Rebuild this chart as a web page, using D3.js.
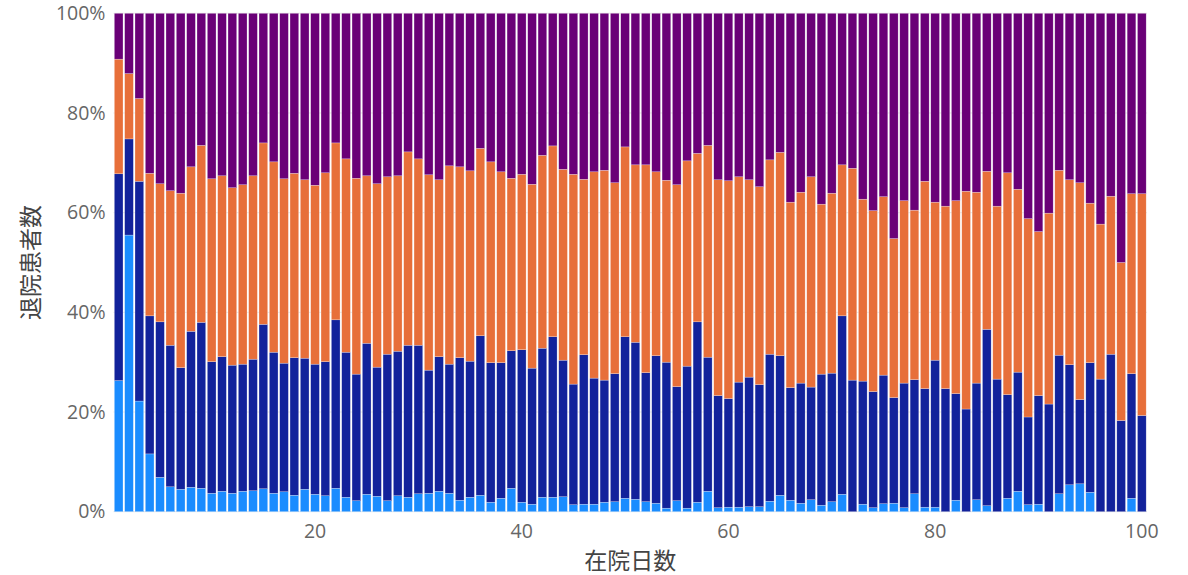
<!DOCTYPE html>
<html>
<head>
<meta charset="utf-8">
<script src="https://cdn.jsdelivr.net/npm/d3@7"></script>
<style>
  body { margin: 0; background: #fff; }
  svg { display: block; }
  .tick text { fill: #666; font-family: "Open Sans", "Noto Sans", sans-serif; font-size: 19.5px; }
  .axis-title { fill: #444; font-family: "Noto Sans CJK JP", sans-serif; font-size: 23px; }
</style>
</head>
<body>
<script>
const width = 1188,
    height = 575;
const margin = {top: 13.3, right: 41, bottom: 63.3, left: 113.5};

// 在院日数 1..100
const days = d3.range(1, 101);

// share of discharged patients per day, 4 groups (bottom -> top)
const seriesA = [26.3,55.5,22.2,11.6,6.9,5.0,4.5,4.9,4.7,3.7, 4.1,3.7,4.1,4.2,4.6,3.7,4.0,3.3,4.5,3.5,
    3.2,4.7,2.9,2.2,3.5,3.1,2.2,3.2,2.9,3.6, 3.7,4.1,3.7,2.3,2.9,3.3,1.9,2.7,4.7,1.9,
    1.5,2.9,2.9,3.0,1.4,1.5,1.5,1.9,2.0,2.7, 2.5,2.0,1.7,0.7,2.2,0.7,1.9,4.1,0.8,0.9,
    0.9,1.0,1.0,2.1,3.3,2.3,1.7,2.4,1.3,2.0, 3.5,0,1.5,0.8,1.6,1.7,0.8,3.6,0.9,0.9,
    0,2.3,0,2.4,1.2,0,2.7,4.1,1.4,1.5, 0,3.6,5.4,5.6,3.9,0,0,0,2.7,0];

const seriesB = [41.5,19.3,44.1,27.7,31.2,28.4,24.4,31.3,33.3,26.4, 27.0,25.7,25.5,26.4,33.0,28.3,25.8,27.6,26.3,26.1,
    26.9,33.8,29.1,25.4,30.3,25.9,29.4,29.0,30.5,29.8, 24.7,27.0,25.9,28.6,27.3,32.0,28.0,27.2,27.6,30.6,
    27.3,29.9,32.2,27.4,24.2,30.0,25.3,24.5,25.7,32.4, 31.5,25.9,29.6,29.3,22.9,28.5,36.2,26.9,22.5,21.8,
    25.1,26.0,24.5,29.5,28.0,22.6,24.1,22.6,26.3,25.8, 35.8,26.4,24.7,23.3,25.8,21.2,25.0,22.9,23.8,29.5,
    24.7,21.4,20.6,23.4,35.4,26.6,20.8,23.9,17.6,21.8, 21.6,27.8,24.1,16.9,26.0,26.6,31.6,18.3,25.0,19.3];

const seriesC = [23.0,13.1,16.6,28.6,27.7,31.0,35.0,33.0,35.5,36.7, 36.3,35.6,36.0,36.8,36.4,38.2,37.0,37.0,35.8,35.9,
    37.9,35.5,38.8,39.3,33.6,36.8,35.6,35.2,38.8,37.4, 39.2,35.5,39.8,38.3,38.2,37.6,40.3,38.3,34.6,35.2,
    36.9,38.7,38.3,38.3,42.1,35.2,41.4,42.1,38.3,38.1, 35.6,41.7,36.9,36.5,40.5,41.2,33.8,42.5,43.3,43.7,
    41.2,39.6,39.7,39.0,40.8,37.2,38.3,42.2,34.1,36.1, 30.3,42.5,36.5,36.3,35.8,31.9,36.6,34.0,41.6,31.7,
    36.6,38.7,43.7,38.3,31.7,34.7,44.5,36.7,39.8,32.9, 38.3,37.1,37.1,43.5,32.0,31.1,31.7,31.7,36.1,44.5];

const seriesD = [9.2,12.1,17.1,32.1,34.2,35.6,36.1,30.8,26.5,33.2, 32.6,35.0,34.4,32.6,26.0,29.8,33.2,32.1,33.4,34.5,
    32.0,26.0,29.2,33.1,32.6,34.2,32.8,32.6,27.8,29.2, 32.4,33.4,30.6,30.8,31.6,27.1,29.8,31.8,33.1,32.3,
    34.3,28.5,26.6,31.3,32.3,33.3,31.8,31.5,34.0,26.8, 30.4,30.4,31.8,33.5,34.4,29.6,28.1,26.5,33.4,33.6,
    32.8,33.4,34.8,29.4,27.9,37.9,35.9,32.8,38.3,36.1, 30.4,31.1,37.3,39.6,36.8,45.2,37.6,39.5,33.7,37.9,
    38.7,37.6,35.7,35.9,31.7,38.7,32.0,35.3,41.2,43.8, 40.1,31.5,33.4,34.0,38.1,42.3,36.7,50.0,36.2,36.2];

const keys = ['A', 'B', 'C', 'D'];
const colors = ['#1a8cff', '#12229b', '#e76f3a', '#6a0077'];

const xTicks = [20, 40, 60, 80, 100];

const table = days.map((d, i) => ({
    day: d, A: seriesA[i], B: seriesB[i], C: seriesC[i], D: seriesD[i]
}));

const stacked = d3.stack()
    .keys(keys)
    .offset(d3.stackOffsetExpand)(table);

const x = d3.scaleBand()
    .domain(days)
    .range([margin.left, width - margin.right])
    .paddingInner(0.16)
    .paddingOuter(0.08);

const y = d3.scaleLinear()
    .domain([0, 1])
    .range([height - margin.bottom, margin.top]);

const color = d3.scaleOrdinal(keys, colors);

const svg = d3.select('body')
    .append('svg')
    .attr('width', width)
    .attr('height', height);

// grid
svg.append('g')
    .selectAll('line')
    .data(y.ticks(5))
    .join('line')
    .attr('x1', margin.left)
    .attr('x2', width - margin.right)
    .attr('y1', d => y(d))
    .attr('y2', d => y(d))
    .attr('stroke', '#e6e6e6')
    .attr('stroke-width', 1);

svg.append('g')
    .selectAll('g')
    .data(stacked)
    .join('g')
    .attr('fill', d => color(d.key))
    .selectAll('rect')
    .data(d => d)
    .join('rect')
    .attr('x', d => x(d.data.day))
    .attr('width', x.bandwidth())
    .attr('y', d => y(d[1]))
    .attr('height', d => y(d[0]) - y(d[1]))
    .attr('stroke', 'rgba(255,255,255,0.5)')
    .attr('stroke-width', 0.5);

// axes
svg.append('g')
    .attr('transform', `translate(0,${height - margin.bottom})`)
    .call(d3.axisBottom(x).tickValues(xTicks).tickSize(0).tickPadding(12))
    .call(g => g.select('.domain').remove());

svg.append('g')
    .attr('transform', `translate(${margin.left},0)`)
    .call(d3.axisLeft(y).ticks(5).tickFormat(d3.format('.0%')).tickSize(0).tickPadding(8))
    .call(g => g.select('.domain').remove());

svg.append('text')
    .attr('class', 'axis-title')
    .attr('x', (margin.left + width - margin.right) / 2)
    .attr('y', 569)
    .attr('text-anchor', 'middle')
    .text('在院日数');

svg.append('text')
    .attr('class', 'axis-title')
    .attr('transform', `translate(39,${(margin.top + height - margin.bottom) / 2}) rotate(-90)`)
    .attr('text-anchor', 'middle')
    .text('退院患者数');
</script>
</body>
</html>
